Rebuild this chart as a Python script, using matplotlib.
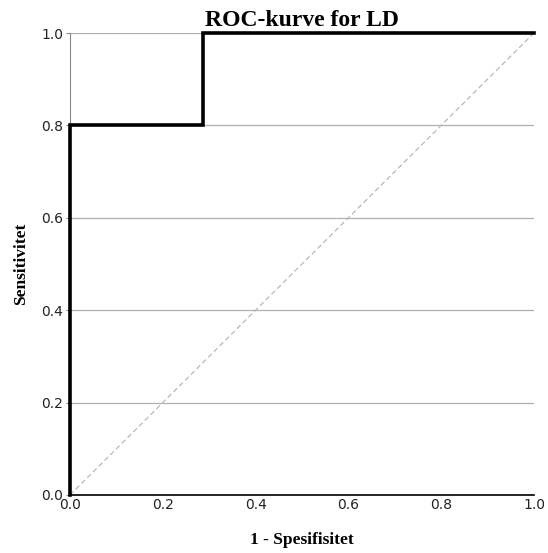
import matplotlib
matplotlib.use("Agg")
import matplotlib.pyplot as plt

# ROC points (1 - specificity, sensitivity)
fpr = [0.0, 0.0, 0.286, 0.286, 1.0]
tpr = [0.0, 0.8, 0.8, 1.0, 1.0]
ref = [0.0, 1.0]
ticks = [0.0, 0.2, 0.4, 0.6, 0.8, 1.0]

fig = plt.figure(figsize=(5.48, 5.53), dpi=100)
ax = fig.add_axes([0.1277, 0.1049, 0.8467, 0.8354])

for t in ticks[1:]:
    ax.axhline(t, color="#b0b0b0", lw=0.9, zorder=1)
ax.plot(ref, ref, ls=(0, (4, 2.5)), color="#b8b8b8", lw=0.9, zorder=2)
ax.plot(fpr, tpr, color="black", lw=2.6, solid_joinstyle="miter", zorder=3, clip_on=False)

ax.set_xlim(0, 1)
ax.set_ylim(0, 1)
ax.set_xticks(ticks)
ax.set_yticks(ticks)
ax.set_xticklabels([f"{t:.1f}" for t in ticks])
ax.set_yticklabels([f"{t:.1f}" for t in ticks])
ax.tick_params(axis="x", length=0, pad=2, labelsize=10, labelcolor="#222222")
ax.tick_params(axis="y", length=3, width=0.8, color="#888888", pad=2, labelsize=10,
               labelcolor="#222222")
for s in ["top", "right"]:
    ax.spines[s].set_visible(False)
ax.spines["left"].set_color("#888888")
ax.spines["left"].set_linewidth(0.8)
ax.spines["bottom"].set_color("black")
ax.spines["bottom"].set_linewidth(1.2)

serif = ["Liberation Serif", "DejaVu Serif"]
ax.set_title("ROC-kurve for LD", fontsize=17, fontweight="bold", family=serif, pad=5)
ax.set_xlabel("1 - Spesifisitet", fontsize=12.5, fontweight="bold", family=serif)
ax.set_ylabel("Sensitivitet", fontsize=12.5, fontweight="bold", family=serif)
ax.xaxis.set_label_coords(0.5, -0.08)
ax.yaxis.set_label_coords(-0.088, 0.5)

fig.savefig("out.png", dpi=100)
